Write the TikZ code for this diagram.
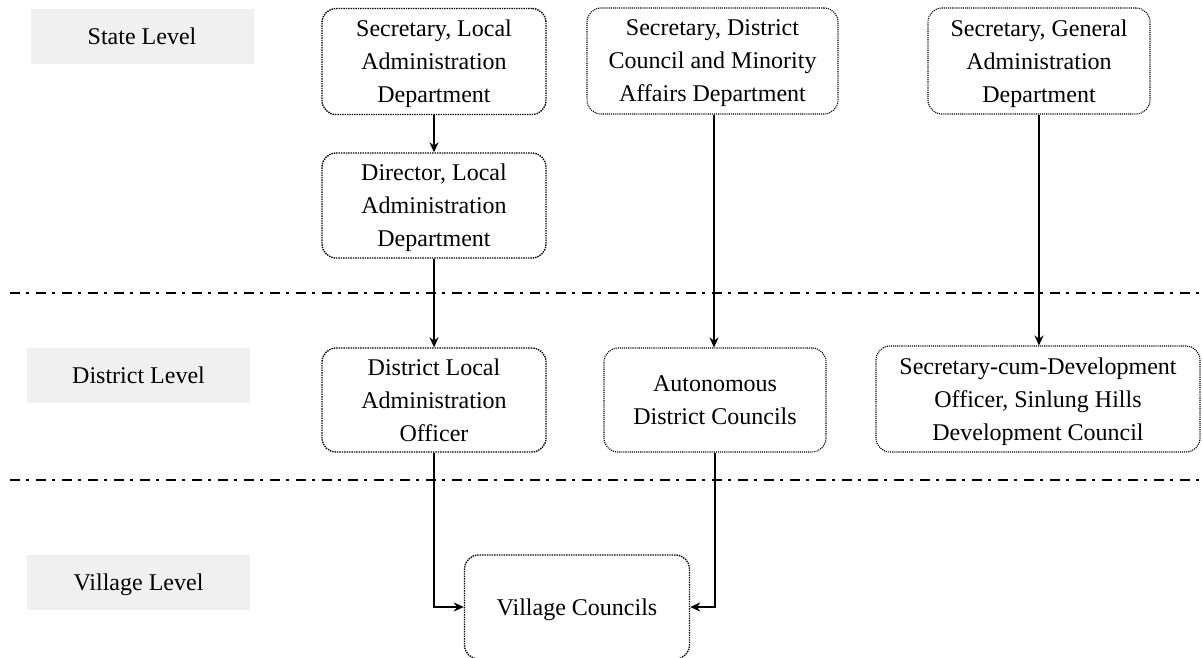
\documentclass[tikz,border=0pt]{standalone}
\usepackage{fontspec}
\setmainfont{Liberation Serif}
\usetikzlibrary{arrows.meta}
\begin{document}
\begin{tikzpicture}[x=1pt,y=-1pt,
  txt/.style={align=center, font=\fontsize{24}{33}\selectfont, inner sep=0pt, text depth=0pt},
  box/.style={txt, draw, densely dotted, line width=1.1pt, rounded corners=14pt},
  boxdark/.style={box, line width=1.4pt},
  lvl/.style={txt, fill=black!6, minimum width=223pt, minimum height=55pt},
  conn/.style={line width=1.8pt, -{Stealth[length=10pt,width=9pt]}},
  sep/.style={line width=2pt, dash pattern=on 10pt off 6pt on 3pt off 7pt}]
\useasboundingbox (0,0) rectangle (1202,657);

% level labels
\node[lvl] (state) at (142,36.5) {State Level};
\node[lvl] (district) at (138.5,375.5) {District Level};
\node[lvl] (village) at (138.5,582.5) {Village Level};

% separators
\coordinate (s1a) at (10,293);
\coordinate (s1b) at (1202,293);
\coordinate (s2a) at (10,480);
\coordinate (s2b) at (1202,480);
\draw[sep] (s1a) -- (s1b);
\draw[sep] (s2a) -- (s2b);

% boxes
\node[boxdark, minimum width=224pt, minimum height=106pt] (A) at (434,61.5) {Secretary, Local\\Administration\\Department};
\node[boxdark, minimum width=224pt, minimum height=105pt] (B) at (434,205.5) {Director, Local\\Administration\\Department};
\node[boxdark, minimum width=224pt, minimum height=104pt] (C) at (434,400) {District Local\\Administration\\Officer};
\node[box, minimum width=251pt, minimum height=106pt] (D) at (712.5,61) {Secretary, District\\Council and Minority\\Affairs Department};
\node[box, minimum width=222pt, minimum height=104pt] (E) at (715,400) {Autonomous\\District Councils};
\node[box, minimum width=222pt, minimum height=106pt] (F) at (1039,61) {Secretary, General\\Administration\\Department};
\node[box, minimum width=324pt, minimum height=106pt] (G) at (1038,399) {Secretary-cum-Development\\Officer, Sinlung Hills\\Development Council};
\node[boxdark, minimum width=225pt, minimum height=104pt] (H) at (577,607) {Village Councils};

% connectors
\coordinate (Dout) at ([xshift=1.5pt]D.south);
\draw[conn] (A) -- (B);
\draw[conn] (B) -- (C);
\draw[conn] (Dout) -- (E.north -| Dout);
\draw[conn] (F.south) -- (G.north -| F.south);
\draw[conn] (C.south) |- (H.west);
\draw[conn] (E.south) |- (H.east);
\end{tikzpicture}
\end{document}
